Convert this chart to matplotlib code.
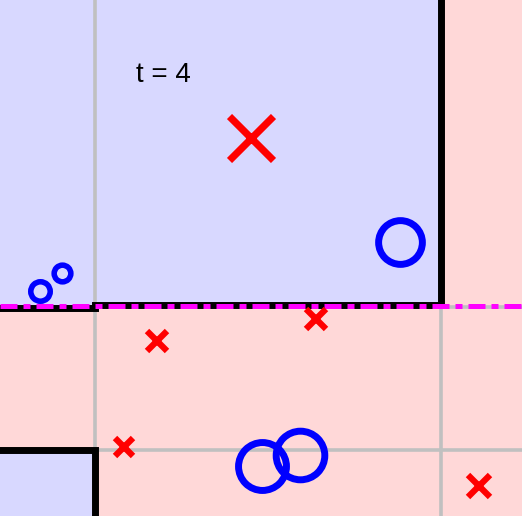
import matplotlib.pyplot as plt

# weighted training points (boosting round t = 4)
pos_x = [0.40, 0.62, 4.00, 2.62, 3.00]
pos_y = [2.25, 2.43, 2.74, 0.50, 0.61]
pos_size = [14, 12, 31.5, 34.5, 35]

neg_x = [2.51, 1.57, 3.16, 1.24, 4.79]
neg_y = [3.78, 1.75, 1.97, 0.69, 0.30]
neg_size = [31, 14, 14.5, 13.5, 16]

# previous stump thresholds (grey) and current stump (magenta)
old_x_splits = [0.95, 4.41]
old_y_splits = [0.66, 2.09]
current_y_split = 2.10

# combined classifier boundary
bound_top_x = [4.41, 4.41, 0.95, 0.95, 0.0]
bound_top_y = [5.16, 2.11, 2.11, 2.08, 2.08]
bound_bot_x = [0.0, 0.95, 0.95]
bound_bot_y = [0.66, 0.66, 0.0]

fig = plt.figure(figsize=(5.22, 5.16), dpi=100)
ax = fig.add_axes([0, 0, 1, 1])
ax.set_xlim(0, 5.22)
ax.set_ylim(0, 5.16)
ax.axis("off")
ax.add_patch(plt.Rectangle((0, 0), 1, 1, transform=ax.transAxes, color="#ffd8d8", zorder=0))

# blue regions
ax.fill(bound_top_x + [0.0], bound_top_y + [5.16], color="#d8d8ff", lw=0, zorder=1)
ax.fill(bound_bot_x + [0.0], bound_bot_y + [0.0], color="#d8d8ff", lw=0, zorder=1)

for xs in old_x_splits:
    ax.axvline(xs, color="#c0c0c0", lw=2.6, zorder=2)
for ys in old_y_splits:
    ax.axhline(ys, color="#c0c0c0", lw=2.6, zorder=2)

ax.plot(bound_top_x, bound_top_y, color="black", lw=5, solid_joinstyle="miter", zorder=3)
ax.plot(bound_bot_x, bound_bot_y, color="black", lw=5, solid_joinstyle="miter", zorder=3)

ax.axhline(current_y_split, color="magenta", lw=3.6, dashes=(3.4, 1.2, 1.4, 1.2), zorder=4)

for x, y, s in zip(pos_x, pos_y, pos_size):
    ax.plot(x, y, "o", ms=s, mfc="none", mec="blue", mew=5 if s > 20 else 4, zorder=5)
for x, y, s in zip(neg_x, neg_y, neg_size):
    ax.plot(x, y, "x", ms=s, mec="red", mew=5.2 if s > 20 else 4.5, zorder=5)

ax.text(1.63, 4.41, "t = 4", fontsize=20, family="Liberation Sans", ha="center", va="center", zorder=6)

fig.savefig("out.png", dpi=100)
